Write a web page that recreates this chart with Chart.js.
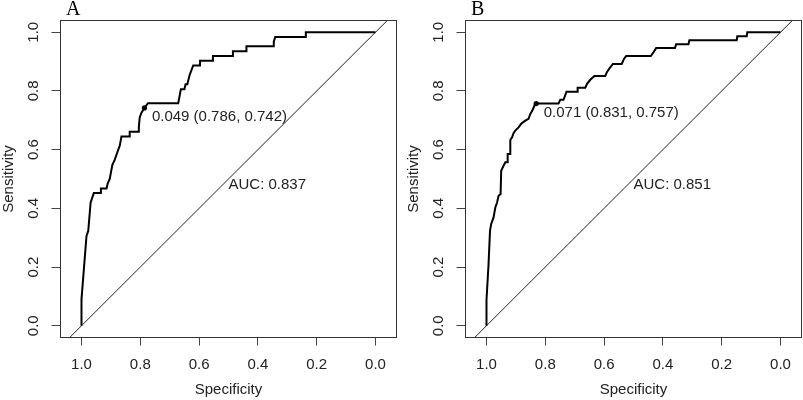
<!DOCTYPE html>
<html>
<head>
<meta charset="utf-8">
<script src="https://cdn.jsdelivr.net/npm/chart.js@4.4.1/dist/chart.umd.min.js"></script>
<style>
  html, body { margin: 0; padding: 0; background: #fff; overflow: hidden; }
  #wrap { position: relative; width: 803px; height: 400px; overflow: hidden; }
  .panel { position: absolute; top: 0; width: 401px; height: 400px; }
  #panelA { left: 0; }
  #panelB { left: 405px; }
</style>
</head>
<body>
<div id="wrap">
  <div class="panel" id="panelA"><canvas id="rocA" width="401" height="400"></canvas></div>
  <div class="panel" id="panelB"><canvas id="rocB" width="401" height="400"></canvas></div>
</div>
<script>
// Оси
const xTicks = [0, 0.2, 0.4, 0.6, 0.8, 1.0];
const xTickLabels = ['0.0', '0.2', '0.4', '0.6', '0.8', '1.0'];
const yTicks = [0, 0.2, 0.4, 0.6, 0.8, 1.0];
const yTickLabels = ['0.0', '0.2', '0.4', '0.6', '0.8', '1.0'];

// Диагональ (случайный классификатор)
const diagSpec = [1.2, -0.2];
const diagSens = [-0.2, 1.2];

// Панель A
const specA = [1.000, 1.000, 0.983, 0.977, 0.969, 0.964, 0.958, 0.934, 0.934, 0.915, 0.911, 0.904,
  0.895, 0.887, 0.876, 0.870, 0.864, 0.836, 0.836, 0.807, 0.805, 0.802, 0.796, 0.786, 0.774,
  0.671, 0.668, 0.662, 0.650, 0.646, 0.640, 0.632, 0.626, 0.620, 0.597, 0.597, 0.553, 0.553,
  0.485, 0.485, 0.439, 0.439, 0.348, 0.346, 0.341, 0.237, 0.237, 0.000];
const sensA = [0.000, 0.090, 0.306, 0.323, 0.419, 0.435, 0.452, 0.452, 0.468, 0.468, 0.484, 0.500,
  0.548, 0.565, 0.597, 0.613, 0.645, 0.645, 0.661, 0.661, 0.677, 0.710, 0.726, 0.742, 0.758,
  0.758, 0.774, 0.806, 0.806, 0.823, 0.823, 0.855, 0.871, 0.887, 0.887, 0.903, 0.903, 0.919,
  0.919, 0.935, 0.935, 0.952, 0.952, 0.968, 0.984, 0.984, 1.000, 1.000];
const bestA = [0.049, 0.786, 0.742]; // порог, специфичность, чувствительность
const aucA = 0.837;

// Панель B
const specB = [1.000, 1.000, 0.993, 0.988, 0.984, 0.976, 0.970, 0.964, 0.959, 0.952, 0.950, 0.942,
  0.936, 0.928, 0.928, 0.919, 0.919, 0.913, 0.908, 0.902, 0.891, 0.882, 0.868, 0.857, 0.851,
  0.844, 0.837, 0.831, 0.755, 0.749, 0.738, 0.728, 0.692, 0.690, 0.664, 0.658, 0.647, 0.633,
  0.596, 0.590, 0.581, 0.570, 0.540, 0.532, 0.525, 0.441, 0.432, 0.423, 0.359, 0.355, 0.313,
  0.310, 0.149, 0.147, 0.115, 0.113, 0.000];
const sensB = [0.000, 0.088, 0.210, 0.324, 0.347, 0.369, 0.403, 0.420, 0.443, 0.449, 0.528, 0.545,
  0.557, 0.557, 0.585, 0.585, 0.633, 0.642, 0.656, 0.665, 0.676, 0.688, 0.699, 0.705, 0.722,
  0.733, 0.750, 0.757, 0.757, 0.770, 0.770, 0.797, 0.797, 0.811, 0.811, 0.824, 0.838, 0.851,
  0.851, 0.865, 0.878, 0.892, 0.892, 0.910, 0.919, 0.919, 0.932, 0.946, 0.946, 0.959, 0.959,
  0.973, 0.973, 0.986, 0.986, 1.000, 1.000];
const bestB = [0.071, 0.831, 0.757];
const aucB = 0.851;

const FONT = '"Liberation Sans", Arial, sans-serif';
const TEXT_COLOR = '#222';

// Рамка, подписи оси Y, порог, AUC, буква панели
const rocDecor = {
    id: 'rocDecor',
    afterDraw(chart, args, opts) {
        const { ctx, chartArea: a, scales: { x, y } } = chart;
        ctx.save();
        ctx.strokeStyle = '#333';
        ctx.lineWidth = 1;
        ctx.strokeRect(a.left, a.top, a.right - a.left, a.bottom - a.top);

        ctx.fillStyle = TEXT_COLOR;
        ctx.font = '15px ' + FONT;
        ctx.textAlign = 'center';
        ctx.textBaseline = 'middle';
        yTicks.forEach((v, i) => {
            ctx.save();
            ctx.translate(a.left - 26.5, y.getPixelForValue(v));
            ctx.rotate(-Math.PI / 2);
            ctx.fillText(yTickLabels[i], 0, 0);
            ctx.restore();
        });

        const b = opts.best;
        const px = x.getPixelForValue(b[1]);
        const py = y.getPixelForValue(b[2]);
        ctx.textAlign = 'left';
        ctx.fillText(`${b[0].toFixed(3)} (${b[1].toFixed(3)}, ${b[2].toFixed(3)})`, px + 7.5, py + 9);
        ctx.fillText('AUC: ' + opts.auc.toFixed(3), x.getPixelForValue(0.5), y.getPixelForValue(0.5) + 6);

        ctx.font = '20px "Liberation Serif", "Times New Roman", serif';
        ctx.textBaseline = 'alphabetic';
        ctx.fillStyle = '#000';
        ctx.fillText(opts.letter, a.left + 5.5, 14.5);
        ctx.restore();
    }
};

function toPoints(spec, sens) {
    return spec.map((s, i) => ({ x: s, y: sens[i] }));
}

function makeRoc(canvasId, letter, spec, sens, best, auc) {
    const ctx = document.getElementById(canvasId).getContext('2d');
    return new Chart(ctx, {
        type: 'line',
        data: {
            datasets: [
                {
                    data: toPoints(diagSpec, diagSens),
                    borderColor: '#222',
                    borderWidth: 1,
                    pointRadius: 0,
                    clip: 0
                },
                {
                    data: toPoints(spec, sens),
                    borderColor: '#000',
                    borderWidth: 2,
                    pointRadius: 0,
                    tension: 0
                },
                {
                    data: [{ x: best[1], y: best[2] }],
                    showLine: false,
                    pointRadius: 2.6,
                    pointBackgroundColor: '#000',
                    pointBorderWidth: 0
                }
            ]
        },
        options: {
            responsive: false,
            animation: false,
            events: [],
            layout: { padding: { top: 20.5, right: 4.5, left: 0, bottom: 0 } },
            plugins: {
                legend: { display: false },
                tooltip: { enabled: false },
                rocDecor: { letter: letter, best: best, auc: auc }
            },
            scales: {
                x: {
                    type: 'linear',
                    reverse: true,
                    bounds: 'data',
                    min: -0.0714,
                    max: 1.0714,
                    afterBuildTicks: s => { s.ticks = xTicks.map(v => ({ value: v })); },
                    afterFit: s => { s.height = 62.5; },
                    border: { display: false },
                    grid: { drawOnChartArea: false, drawTicks: true, tickLength: 8, color: '#444' },
                    ticks: {
                        color: TEXT_COLOR,
                        font: { family: FONT, size: 15 },
                        padding: 10,
                        maxRotation: 0,
                        autoSkip: false,
                        callback: v => xTickLabels[xTicks.indexOf(v)]
                    },
                    title: {
                        display: true,
                        text: 'Specificity',
                        color: TEXT_COLOR,
                        font: { family: FONT, size: 15, lineHeight: 1.2 },
                        padding: { top: 0, bottom: 1 }
                    }
                },
                y: {
                    type: 'linear',
                    bounds: 'data',
                    min: -0.04,
                    max: 1.04,
                    afterBuildTicks: s => { s.ticks = yTicks.map(v => ({ value: v })); },
                    afterFit: s => { s.width = 60.5; },
                    border: { display: false },
                    grid: { drawOnChartArea: false, drawTicks: true, tickLength: 9, color: '#444' },
                    ticks: { display: false },
                    title: {
                        display: true,
                        text: 'Sensitivity',
                        color: TEXT_COLOR,
                        font: { family: FONT, size: 15, lineHeight: 1.2 },
                        padding: { top: 0, bottom: 0 }
                    }
                }
            }
        },
        plugins: [rocDecor]
    });
}

document.addEventListener('DOMContentLoaded', () => {
    makeRoc('rocA', 'A', specA, sensA, bestA, aucA);
    makeRoc('rocB', 'B', specB, sensB, bestB, aucB);
});
</script>
</body>
</html>
